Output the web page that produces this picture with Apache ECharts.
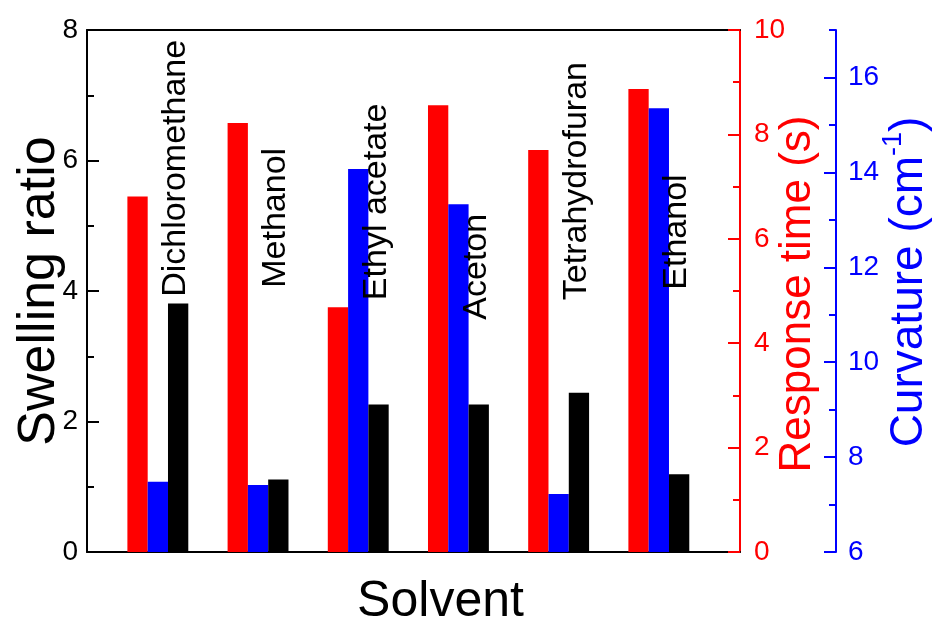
<!DOCTYPE html>
<html>
<head>
<meta charset="utf-8">
<script src="https://cdn.jsdelivr.net/npm/echarts@6/dist/echarts.min.js"></script>
<style>html,body{margin:0;padding:0;background:#fff;}#c{width:932px;height:619px;}</style>
</head>
<body>
<div id="c"></div>
<script>
// ---- data ----
var solvents = ['Dichloromethane', 'Methanol', 'Ethyl acetate', 'Aceton', 'Tetrahydrofuran', 'Ethanol'];
var responseTime = [6.81, 8.22, 4.69, 8.56, 7.70, 8.87];     // s (red, right axis)
var curvature = [7.48, 7.41, 14.07, 13.33, 7.22, 15.35];     // cm^-1 (blue, outer right axis)
var swellingRatio = [3.81, 1.11, 2.26, 2.26, 2.44, 1.19];    // (black, left axis)
var labelBase = [3.91, 4.05, 3.86, 3.56, 3.86, 4.02];        // where each solvent name starts (swelling units)
var swellMajor = [0, 2, 4, 6, 8];
var swellMinor = [1, 3, 5, 7];
var responseMajor = [0, 2, 4, 6, 8, 10];
var responseMinor = [1, 3, 5, 7, 9];
var curvMajor = [6, 8, 10, 12, 14, 16];
var curvMinor = [7, 9, 11, 13, 15, 17];

var FONT = 'Liberation Sans, Arial, sans-serif';
var chart = echarts.init(document.getElementById('c'), null, {renderer: 'canvas'});

function pairs(vals) { return vals.map(function (v, i) { return [i + 1, v]; }); }

function minorAxis(min, max, pos, offset, color, values) {
  return {
    type: 'value', min: min, max: max, position: pos, offset: offset,
    axisLine: {show: false},
    axisTick: {show: true, inside: true, length: 7, customValues: values, lineStyle: {width: 2, color: color}},
    axisLabel: {show: false}, splitLine: {show: false}
  };
}

var option = {
  animation: false,
  backgroundColor: '#fff',
  textStyle: {fontFamily: FONT},
  grid: {left: 87, right: 192, top: 30, bottom: 67, containLabel: false, outerBoundsMode: 'none'},
  xAxis: [
    {
      type: 'value', min: 0.293, max: 6.81, position: 'bottom',
      axisLine: {show: true, lineStyle: {color: '#000', width: 2}},
      axisTick: {show: false}, axisLabel: {show: false}, splitLine: {show: false},
      name: 'Solvent', nameLocation: 'middle', nameGap: 25, nameMoveOverlap: false,
      nameTextStyle: {fontSize: 50, color: '#000', fontFamily: FONT, verticalAlign: 'top', padding: [0, 0, 0, 54]}
    },
    {
      type: 'value', min: 0.293, max: 6.81, position: 'top',
      axisLine: {show: true, onZero: false, lineStyle: {color: '#000', width: 2}},
      axisTick: {show: false}, axisLabel: {show: false}, splitLine: {show: false}
    }
  ],
  yAxis: [
    {
      type: 'value', min: 0, max: 8, position: 'left',
      axisLine: {show: true, lineStyle: {color: '#000', width: 2}},
      axisTick: {show: true, inside: true, length: 12, customValues: swellMajor, lineStyle: {width: 2, color: '#000'}},
      axisLabel: {fontSize: 28, color: '#000', margin: 9, fontFamily: FONT, customValues: swellMajor},
      splitLine: {show: false},
      name: 'Swelling ratio', nameLocation: 'middle', nameGap: 21, nameRotate: 90, nameMoveOverlap: false,
      nameTextStyle: {fontSize: 52, color: '#000', fontFamily: FONT}
    },
    {
      type: 'value', min: 0, max: 10, position: 'right',
      axisLine: {show: true, lineStyle: {color: '#f00', width: 2}},
      axisTick: {show: true, inside: true, length: 12, customValues: responseMajor, lineStyle: {width: 2, color: '#f00'}},
      axisLabel: {fontSize: 28, color: '#f00', margin: 14, fontFamily: FONT, customValues: responseMajor},
      splitLine: {show: false},
      name: 'Response time (s)', nameLocation: 'middle', nameGap: 36, nameRotate: 90, nameMoveOverlap: false,
      nameTextStyle: {fontSize: 44, color: '#f00', fontFamily: FONT, padding: [0, 6, 0, 0]}
    },
    {
      type: 'value', min: 6, max: 17, position: 'right', offset: 96,
      axisLine: {show: true, lineStyle: {color: '#00f', width: 2}},
      axisTick: {show: true, inside: true, length: 12, customValues: curvMajor, lineStyle: {width: 2, color: '#00f'}},
      axisLabel: {fontSize: 28, color: '#00f', margin: 12, fontFamily: FONT, customValues: curvMajor},
      splitLine: {show: false},
      name: '{t|Curvature (cm}{s|-1}{t|)}', nameLocation: 'middle', nameGap: 44, nameRotate: 90, nameMoveOverlap: false,
      nameTextStyle: {
        color: '#00f', fontFamily: FONT, padding: [0, 0, 0, 18],
        rich: {
          t: {fontSize: 46, color: '#00f', fontFamily: FONT, lineHeight: 52, verticalAlign: 'bottom'},
          s: {fontSize: 27, color: '#00f', fontFamily: FONT, lineHeight: 52, verticalAlign: 'top'}
        }
      }
    },
    minorAxis(6, 17, 'right', 96, '#00f', curvMinor),
    minorAxis(0, 8, 'left', 0, '#000', swellMinor),
    minorAxis(0, 10, 'right', 0, '#f00', responseMinor)
  ],
  series: [
    {
      type: 'bar', name: 'Response time', xAxisIndex: 0, yAxisIndex: 1,
      data: pairs(responseTime), barWidth: 20.3, barGap: '0%',
      itemStyle: {color: '#ff0000'}
    },
    {
      type: 'bar', name: 'Curvature', xAxisIndex: 0, yAxisIndex: 2,
      data: pairs(curvature), barWidth: 20.3, barGap: '0%',
      itemStyle: {color: '#0000ff'}
    },
    {
      type: 'bar', name: 'Swelling ratio', xAxisIndex: 0, yAxisIndex: 0,
      data: pairs(swellingRatio), barWidth: 20.3, barGap: '0%',
      itemStyle: {color: '#000000'}
    },
    {
      type: 'scatter', xAxisIndex: 0, yAxisIndex: 0, symbolSize: 0, silent: true,
      itemStyle: {opacity: 1},
      data: solvents.map(function (s, i) { return {name: s, value: [i + 1.18, labelBase[i]]}; }),
      label: {
        show: true, position: 'inside', rotate: 90, align: 'left', verticalAlign: 'middle',
        fontSize: 34, color: '#000', opacity: 1, textBorderWidth: 0, fontFamily: FONT,
        formatter: function (p) { return p.name; }
      },
      z: 5
    }
  ]
};
chart.setOption(option);
</script>
</body>
</html>
